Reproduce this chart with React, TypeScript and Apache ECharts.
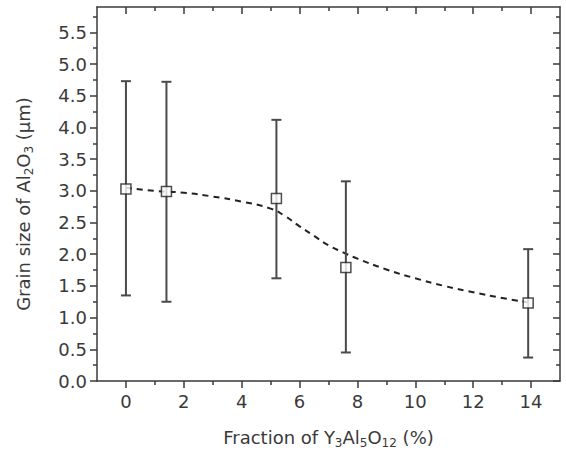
import React, { useEffect, useRef } from "react";
import * as echarts from "echarts";

const fractions = [0, 1.4, 5.2, 7.6, 13.9];
const grainSize = [3.03, 2.99, 2.88, 1.79, 1.23];
const errLow = [1.35, 1.25, 1.62, 0.45, 0.37];
const errHigh = [4.73, 4.72, 4.12, 3.15, 2.08];

const fitX = [0, 1, 2, 3, 4, 5, 5.5, 6, 6.5, 7, 7.5, 8, 9, 10, 11, 12, 13, 14];
const fitY = [3.05, 3.0, 2.97, 2.91, 2.83, 2.72, 2.6, 2.44, 2.29, 2.14, 2.03, 1.93, 1.76, 1.62, 1.5, 1.4, 1.31, 1.23];

const xMajorTicks = [0, 2, 4, 6, 8, 10, 12, 14];
const xMinorTicks = [1, 3, 5, 7, 9, 11, 13];
const yMajorTicks = [0, 0.5, 1, 1.5, 2, 2.5, 3, 3.5, 4, 4.5, 5, 5.5];
const yMinorTicks = [0.25, 0.75, 1.25, 1.75, 2.25, 2.75, 3.25, 3.75, 4.25, 4.75, 5.25, 5.75];

const FONT = '"DejaVu Sans", Arial, sans-serif';
const AXIS_COLOR = "#3a3a3a";
const TEXT_COLOR = "#3a3a3a";

export default function App() {
  const ref = useRef<HTMLDivElement>(null);
  useEffect(() => {
    document.body.style.margin = "0";
    const chart = echarts.init(ref.current!, null, { renderer: "svg" });
    const lineStyle = { color: AXIS_COLOR, width: 1.5 };
    const rich = {
      n: { fontSize: 18, lineHeight: 24, verticalAlign: "middle", color: TEXT_COLOR, fontFamily: FONT },
      s: { fontSize: 12, lineHeight: 24, verticalAlign: "bottom", color: TEXT_COLOR, fontFamily: FONT },
    };
    const labelStyle = { fontSize: 18, color: TEXT_COLOR, fontFamily: FONT };
    const xBase = { type: "value", min: -1, max: 15, splitLine: { show: false } };
    const yBase = { type: "value", min: 0, max: 5.9, splitLine: { show: false } };
    chart.setOption({
      animation: false,
      backgroundColor: "#fff",
      grid: { left: 97, right: 6, top: 7, bottom: 73 },
      xAxis: [
        {
          ...xBase,
          position: "bottom",
          axisLine: { show: true, onZero: false, lineStyle },
          axisTick: { show: true, inside: false, length: 7, lineStyle, customValues: xMajorTicks },
          axisLabel: { margin: 11, ...labelStyle, customValues: xMajorTicks },
          name: "{n|Fraction of Y}{s|3}{n|Al}{s|5}{n|O}{s|12}{n| (%)}",
          nameLocation: "middle",
          nameGap: 44,
          nameTextStyle: { rich },
        },
        {
          ...xBase,
          position: "bottom",
          axisLine: { show: false, onZero: false },
          axisTick: { show: true, inside: false, length: 4, lineStyle, customValues: xMinorTicks },
          axisLabel: { show: false },
        },
        {
          ...xBase,
          position: "top",
          axisLine: { show: true, onZero: false, lineStyle },
          axisTick: { show: true, inside: true, length: 7, lineStyle, customValues: xMajorTicks },
          axisLabel: { show: false },
        },
        {
          ...xBase,
          position: "top",
          axisLine: { show: false, onZero: false },
          axisTick: { show: true, inside: true, length: 4, lineStyle, customValues: xMinorTicks },
          axisLabel: { show: false },
        },
      ],
      yAxis: [
        {
          ...yBase,
          position: "left",
          axisLine: { show: true, onZero: false, lineStyle },
          axisTick: { show: true, inside: false, length: 7, lineStyle, customValues: yMajorTicks },
          axisLabel: {
            margin: 10,
            ...labelStyle,
            customValues: yMajorTicks,
            formatter: (v: number) => v.toFixed(1),
          },
          name: "{n|Grain size of Al}{s|2}{n|O}{s|3}{n| (μm)}",
          nameLocation: "middle",
          nameRotate: 90,
          nameGap: 62,
          nameTextStyle: { rich, padding: [0, 20, 0, 0] },
        },
        {
          ...yBase,
          position: "left",
          axisLine: { show: false, onZero: false },
          axisTick: { show: true, inside: false, length: 4, lineStyle, customValues: yMinorTicks },
          axisLabel: { show: false },
        },
        {
          ...yBase,
          position: "right",
          axisLine: { show: true, onZero: false, lineStyle },
          axisTick: { show: true, inside: true, length: 7, lineStyle, customValues: yMajorTicks },
          axisLabel: { show: false },
        },
        {
          ...yBase,
          position: "right",
          axisLine: { show: false, onZero: false },
          axisTick: { show: true, inside: true, length: 4, lineStyle, customValues: yMinorTicks },
          axisLabel: { show: false },
        },
      ],
      series: [
        {
          type: "line",
          data: fitX.map((x, i) => [x, fitY[i]]),
          smooth: true,
          showSymbol: false,
          symbol: "none",
          lineStyle: { color: "#222", width: 2, type: [6, 5] },
          z: 2,
        },
        {
          type: "custom",
          data: fractions.map((x, i) => [x, errLow[i], errHigh[i]]),
          encode: { x: 0, y: [1, 2] },
          renderItem: (params: any, api: any) => {
            const x = api.value(0);
            const lo = api.coord([x, api.value(1)]);
            const hi = api.coord([x, api.value(2)]);
            const hw = 5;
            const style = { stroke: "#4a4a4a", lineWidth: 2 };
            return {
              type: "group",
              children: [
                { type: "line", shape: { x1: lo[0], y1: lo[1], x2: hi[0], y2: hi[1] }, style },
                { type: "line", shape: { x1: lo[0] - hw, y1: lo[1], x2: lo[0] + hw, y2: lo[1] }, style },
                { type: "line", shape: { x1: hi[0] - hw, y1: hi[1], x2: hi[0] + hw, y2: hi[1] }, style },
              ],
            };
          },
          z: 3,
        },
        {
          type: "scatter",
          data: fractions.map((x, i) => [x, grainSize[i]]),
          symbol: "rect",
          symbolSize: 10,
          itemStyle: { color: "#fff", borderColor: "#222", borderWidth: 1.5 },
          z: 4,
        },
      ],
    });
    return () => chart.dispose();
  }, []);
  return <div ref={ref} style={{ width: 566, height: 454 }} />;
}
